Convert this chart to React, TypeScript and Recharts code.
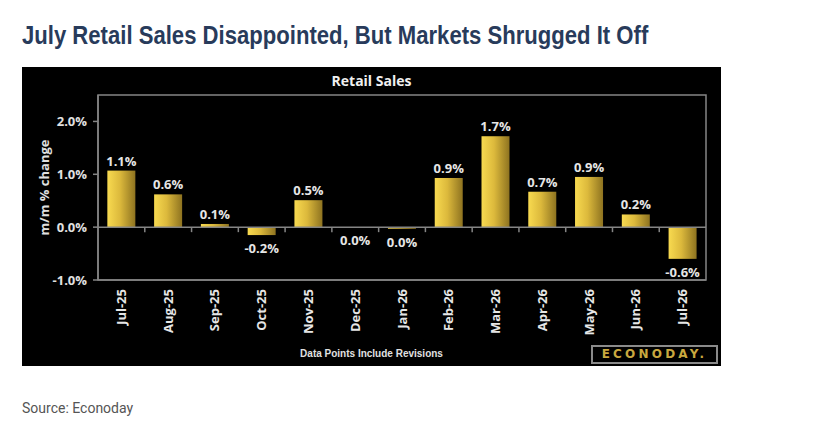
import React from "react";
import { BarChart, Bar, XAxis, YAxis, ReferenceLine, ReferenceArea, LabelList, Label } from "recharts";

// monthly retail sales, m/m % change (bar heights)
const months = ["Jul-25", "Aug-25", "Sep-25", "Oct-25", "Nov-25", "Dec-25", "Jan-26", "Feb-26", "Mar-26", "Apr-26", "May-26", "Jun-26", "Jul-26"];
const change = [1.07, 0.62, 0.06, -0.15, 0.51, 0.0, -0.03, 0.93, 1.72, 0.67, 0.95, 0.24, -0.6];
// the rounded figures printed on the bars
const reported = ["1.1%", "0.6%", "0.1%", "-0.2%", "0.5%", "0.0%", "0.0%", "0.9%", "1.7%", "0.7%", "0.9%", "0.2%", "-0.6%"];
const yTicks = [-1, 0, 1, 2];

const data = months.map((m, i) => ({ month: m, change: change[i], label: reported[i] }));

const GAP = 0.2; // barCategoryGap as a fraction of the band
const axisGray = "#858585";
const chartFont = "'Open Sans', sans-serif";

const GoldBar = (props: any) => {
  const { x, y, width, height, index, value } = props;
  const top = Math.min(y, y + height);
  const bottom = Math.max(y, y + height);
  const zero = value >= 0 ? bottom : top;
  const band = width / (1 - 2 * GAP);
  const tickX = x - GAP * band;
  return (
    <g>
      <rect x={x} y={top} width={width} height={bottom - top} fill="url(#goldGrad)" />
      {index > 0 && <line x1={tickX} x2={tickX} y1={zero} y2={zero + 5} stroke={axisGray} strokeWidth={1.5} />}
    </g>
  );
};

const BarLabel = (props: any) => {
  const { x, y, width, height, value, index } = props;
  const top = Math.min(y, y + height);
  const bottom = Math.max(y, y + height);
  const below = change[index] <= 0;
  return (
    <text
      x={x + width / 2}
      y={below ? bottom + 18 : top - 5}
      textAnchor="middle"
      fill="#e6e6e6"
      fontFamily={chartFont}
      fontWeight={700}
      fontSize={13}
    >
      {value}
    </text>
  );
};

const MonthTick = (props: any) => {
  const { x, y, payload } = props;
  return (
    <text
      x={x}
      y={y}
      transform={`rotate(-90, ${x}, ${y})`}
      textAnchor="end"
      dy="0.35em"
      fill="#e6e6e6"
      fontFamily={chartFont}
      fontWeight={700}
      fontSize={13}
    >
      {payload.value}
    </text>
  );
};

export default function App() {
  return (
    <div style={{ position: "absolute", left: 0, top: 0, width: 823, height: 439, background: "#fff" }}>
      <div
        style={{
          position: "absolute",
          left: 22,
          top: 20,
          fontFamily: "'Liberation Sans Narrow', sans-serif",
          fontWeight: 700,
          fontSize: 26,
          color: "#283b5b",
          whiteSpace: "nowrap",
          transform: "scaleX(0.85)",
          transformOrigin: "left top",
        }}
      >
        July Retail Sales Disappointed, But Markets Shrugged It Off
      </div>

      <div style={{ position: "absolute", left: 22, top: 67, width: 699, height: 299, background: "#000" }}>
        <div
          style={{
            position: "absolute",
            left: 0,
            width: 699,
            top: 4,
            textAlign: "center",
            color: "#f0f0f0",
            fontFamily: chartFont,
            fontWeight: 700,
            fontSize: 14,
          }}
        >
          Retail Sales
        </div>

        <BarChart
          width={699}
          height={299}
          data={data}
          margin={{ top: 28, right: 15, bottom: 0, left: 0 }}
          barCategoryGap={`${GAP * 100}%`}
          style={{ position: "absolute", left: 0, top: 0 }}
        >
          <defs>
            <linearGradient id="goldGrad" x1="0" y1="0" x2="1" y2="0">
              <stop offset="0%" stopColor="#f8da50" />
              <stop offset="45%" stopColor="#dcb93c" />
              <stop offset="100%" stopColor="#8e7320" />
            </linearGradient>
          </defs>
          <XAxis
            dataKey="month"
            height={86}
            interval={0}
            tickLine={false}
            tickSize={0}
            tickMargin={9}
            axisLine={{ stroke: axisGray, strokeWidth: 1.5 }}
            tick={<MonthTick />}
          />
          <YAxis
            domain={[-1, 2.5]}
            ticks={yTicks}
            width={76}
            tickSize={5}
            tickMargin={6}
            tickFormatter={(v: number) => `${v.toFixed(1)}%`}
            tick={{ fill: "#e0e0e0", fontFamily: chartFont, fontWeight: 700, fontSize: 13 }}
            tickLine={{ stroke: axisGray, strokeWidth: 1.5 }}
            axisLine={{ stroke: axisGray, strokeWidth: 1.5 }}
          >
            <Label
              value="m/m % change"
              angle={-90}
              position="insideLeft"
              offset={22}
              textAnchor="middle"
              style={{ fill: "#e0e0e0", fontFamily: chartFont, fontWeight: 700, fontSize: 13, textAnchor: "middle" }}
            />
          </YAxis>
          {/* frame round the plot area */}
          <ReferenceArea y1={-1} y2={2.5} fill="none" stroke={axisGray} strokeWidth={1.5} />
          <ReferenceLine y={0} stroke={axisGray} strokeWidth={1.5} />
          <Bar dataKey="change" shape={<GoldBar />} isAnimationActive={false}>
            <LabelList dataKey="label" content={<BarLabel />} />
          </Bar>
        </BarChart>

        <div
          style={{
            position: "absolute",
            left: 0,
            width: 699,
            top: 281,
            textAlign: "center",
            color: "#e0e0e0",
            fontFamily: "'Liberation Sans Narrow', sans-serif",
            fontWeight: 700,
            fontSize: 10,
          }}
        >
          Data Points Include Revisions
        </div>

        <div
          style={{
            position: "absolute",
            left: 569,
            top: 278,
            width: 123,
            height: 15,
            border: "2px solid #8a8a8a",
            color: "#c9a83f",
            fontFamily: "'DejaVu Sans', sans-serif",
            fontWeight: 700,
            fontSize: 12,
            letterSpacing: 3.2,
            lineHeight: "15px",
            textAlign: "center",
          }}
        >
          ECONODAY.
        </div>
      </div>

      <div
        style={{
          position: "absolute",
          left: 22,
          top: 400,
          fontFamily: "Roboto, sans-serif",
          fontWeight: 400,
          fontSize: 14,
          color: "#555",
        }}
      >
        Source: Econoday
      </div>
    </div>
  );
}
